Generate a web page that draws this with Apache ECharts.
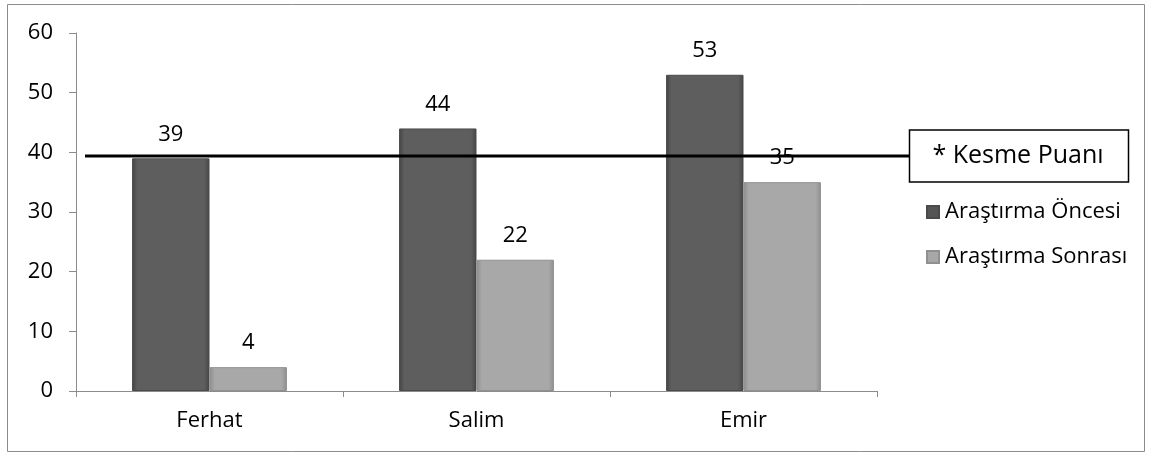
<!DOCTYPE html>
<html><head><meta charset="utf-8">
<script src="https://cdn.jsdelivr.net/npm/echarts@6/dist/echarts.min.js"></script>
<style>html,body{margin:0;padding:0;background:#fff}#c{width:1152px;height:457px}</style>
</head><body><div id="c"></div>
<script>
const categories = ['Ferhat', 'Salim', 'Emir'];
const seriesNames = ['Araştırma Öncesi', 'Araştırma Sonrası'];
const before = [39, 44, 53];
const after = [4, 22, 35];
const cutoffValue = 39.4;
const cutoffLabel = '* Kesme Puanı';
const yTicks = [0, 10, 20, 30, 40, 50, 60];

const FONT = '"Open Sans", "Noto Sans", sans-serif';
function bevel(base, dark) {
  return {
    type: 'linear', x: 0, y: 0, x2: 1, y2: 0,
    colorStops: [
      {offset: 0, color: dark}, {offset: 0.07, color: base},
      {offset: 0.93, color: base}, {offset: 1, color: dark}
    ]
  };
}
const chart = echarts.init(document.getElementById('c'), null, {renderer: 'canvas'});
const option = {
  animation: false,
  backgroundColor: '#fff',
  grid: {left: 76, right: 275, top: 33, bottom: 66, containLabel: false},
  legend: {
    orient: 'vertical', left: 921, top: 196, itemGap: 23,
    itemWidth: 12, itemHeight: 12, icon: 'rect',
    textStyle: {fontFamily: FONT, fontSize: 22, color: '#000', padding: [0, 0, 0, 1]},
    data: [
      {name: seriesNames[0], itemStyle: {color: '#555555'}},
      {name: seriesNames[1], itemStyle: {color: '#a8a8a8'}}
    ]
  },
  xAxis: {
    type: 'category', data: categories,
    axisLine: {lineStyle: {color: '#8c8c8c', width: 1}},
    axisTick: {show: true, length: 6, lineStyle: {color: '#8c8c8c'}},
    axisLabel: {fontFamily: FONT, fontSize: 22, color: '#000', margin: 19}
  },
  yAxis: {
    type: 'value', min: yTicks[0], max: yTicks[yTicks.length - 1], interval: 10,
    splitLine: {show: false},
    axisLine: {show: true, lineStyle: {color: '#8c8c8c', width: 1}},
    axisTick: {show: true, length: 7, lineStyle: {color: '#8c8c8c'}},
    axisLabel: {fontFamily: FONT, fontSize: 22, color: '#000', margin: 23}
  },
  series: [
    {
      name: seriesNames[0], type: 'bar', data: before, barWidth: '29%', barGap: '0%',
      itemStyle: {color: bevel('#5e5e5e', '#454545'), borderColor: '#4a4a4a', borderWidth: 1},
      label: {show: true, position: 'top', distance: 13, fontFamily: FONT, fontSize: 22, color: '#000'}
    },
    {
      name: seriesNames[1], type: 'bar', data: after, barWidth: '29%', barGap: '0%',
      itemStyle: {color: bevel('#a8a8a8', '#8e8e8e'), borderColor: '#909090', borderWidth: 1},
      label: {show: true, position: 'top', distance: 13, fontFamily: FONT, fontSize: 22, color: '#000'}
    }
  ]
};
chart.setOption(option);
const yPix = chart.convertToPixel({yAxisIndex: 0}, cutoffValue);
chart.setOption({
  graphic: [
    {type: 'rect', shape: {x: 7.5, y: 4.5, width: 1137, height: 447},
     style: {fill: null, stroke: '#8c8c8c', lineWidth: 1}, silent: true, z: -1},
    {type: 'line', shape: {x1: 85, y1: yPix, x2: 909, y2: yPix},
     style: {stroke: '#000', lineWidth: 3}, z: 100},
    {type: 'rect', shape: {x: 909.5, y: yPix - 26, width: 219, height: 52},
     style: {fill: '#fff', stroke: '#000', lineWidth: 1.5}, z: 100},
    {type: 'text', x: 1018, y: yPix, z: 101,
     style: {text: cutoffLabel, fontFamily: FONT, fontSize: 25, fill: '#000', align: 'center', verticalAlign: 'middle'}}
  ]
});
</script></body></html>
